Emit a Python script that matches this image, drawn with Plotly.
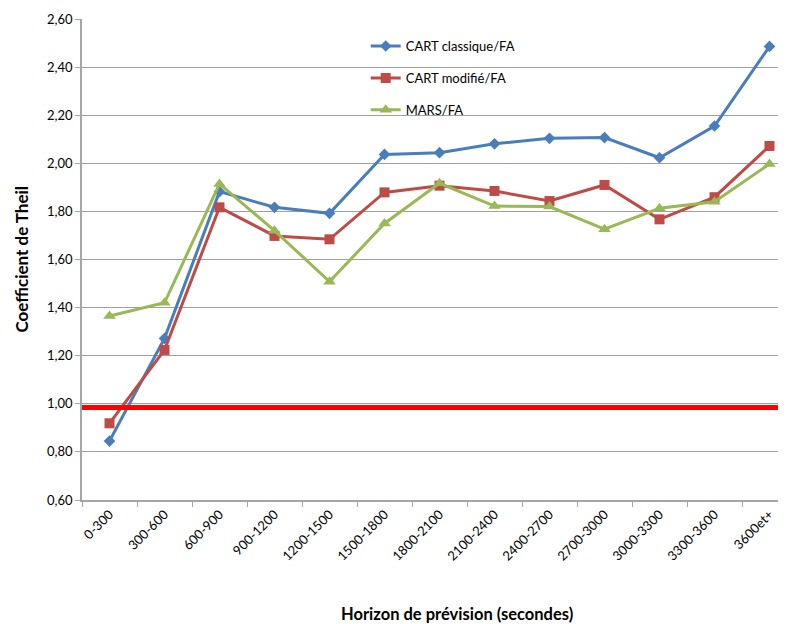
import plotly.graph_objects as go

categories = ["0-300", "300-600", "600-900", "900-1200", "1200-1500", "1500-1800",
              "1800-2100", "2100-2400", "2400-2700", "2700-3000", "3000-3300",
              "3300-3600", "3600et+"]
cart_classique = [0.845, 1.272, 1.882, 1.817, 1.792, 2.037, 2.044, 2.081, 2.104,
                  2.107, 2.023, 2.155, 2.486]
cart_modifie = [0.919, 1.224, 1.817, 1.698, 1.684, 1.879, 1.907, 1.885, 1.843,
                1.910, 1.767, 1.859, 2.072]
mars = [1.365, 1.420, 1.914, 1.720, 1.508, 1.750, 1.917, 1.822, 1.820,
        1.726, 1.813, 1.840, 1.997]
reference_level = 0.985
y_ticks = [0.60, 0.80, 1.00, 1.20, 1.40, 1.60, 1.80, 2.00, 2.20, 2.40, 2.60]
y_tick_labels = ["0,60", "0,80", "1,00", "1,20", "1,40", "1,60", "1,80", "2,00",
                 "2,20", "2,40", "2,60"]

FONT = "Lato"

fig = go.Figure()
series = [
    ("CART classique/FA", cart_classique, "#4A7EBB", "diamond", 9),
    ("CART modifié/FA", cart_modifie, "#BE4B48", "square", 10),
    ("MARS/FA", mars, "#98B954", "triangle-up", 11),
]
for i, (name, vals, col, sym, sz) in enumerate(series):
    fig.add_trace(go.Scatter(
        x=categories, y=vals, name=name, mode="lines+markers",
        line=dict(color=col, width=3),
        marker=dict(symbol=sym, size=sz, color=col),
        legendgroup=f"g{i}",
    ))

fig.add_shape(type="line", xref="x domain", yref="y", x0=0, x1=1,
              y0=reference_level, y1=reference_level,
              line=dict(color="#FF0000", width=5), layer="above")

fig.update_layout(
    width=778, height=616,
    paper_bgcolor="white", plot_bgcolor="white",
    margin=dict(l=74, r=0, t=11, b=124, autoexpand=False),
    font=dict(family=FONT, size=13, color="#000000"),
    showlegend=True,
    legend=dict(x=0.403, y=0.975, xanchor="left", yanchor="top",
                bgcolor="rgba(0,0,0,0)", font=dict(family=FONT, size=13),
                tracegroupgap=12, itemwidth=30),
    xaxis=dict(
        type="category", range=[-0.5, 12.3], tickangle=-45,
        showgrid=False, showline=True, linecolor="#A6A6A6", linewidth=1.5,
        ticks="outside", ticklen=5, tickcolor="#A6A6A6", tickson="boundaries",
        automargin=False, tickfont=dict(family=FONT, size=13),
    ),
    yaxis=dict(
        range=[0.6, 2.6], tickvals=y_ticks, ticktext=y_tick_labels,
        showgrid=True, gridcolor="#A0A0A0", gridwidth=1.2,
        showline=True, linecolor="#A6A6A6", linewidth=1.5,
        ticks="outside", ticklen=5, tickcolor="#A6A6A6",
        zeroline=False, automargin=False, tickfont=dict(family=FONT, size=13),
    ),
    annotations=[
        dict(text="<b>Coefficient de Theil</b>", xref="paper", yref="paper",
             x=-0.0866, y=0.5, xanchor="center", yanchor="middle", textangle=-90,
             showarrow=False, font=dict(family=FONT, size=17)),
        dict(text="<b>Horizon de prévision (secondes)</b>", xref="paper", yref="paper",
             x=0.533, y=-0.237, xanchor="center", yanchor="middle",
             showarrow=False, font=dict(family=FONT, size=16.5)),
    ],
)

fig.write_html("out.html")
